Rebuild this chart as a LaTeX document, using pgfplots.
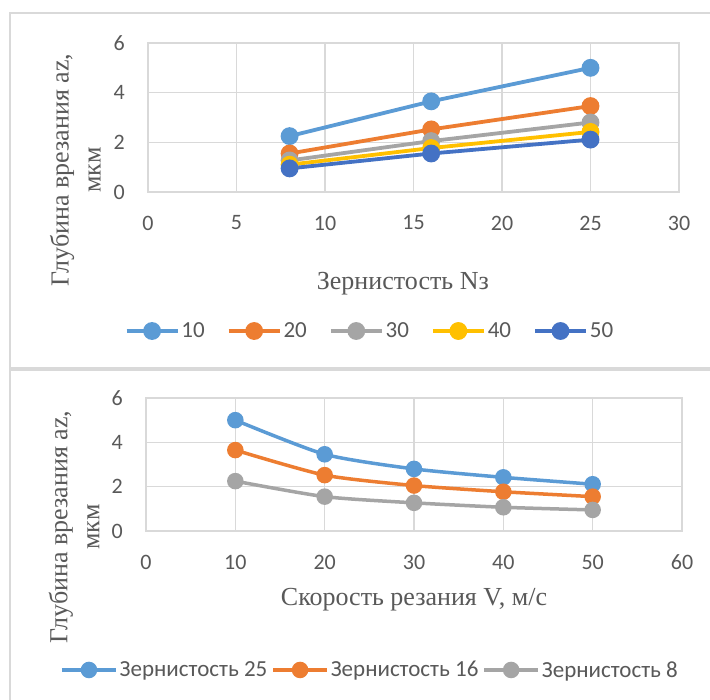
\documentclass[border=0pt]{standalone}
\usepackage{pgfplots}
\pgfplotsset{compat=1.18}
\usepackage{fontspec}
\setmainfont{Liberation Serif}
\newfontfamily\carlito{Carlito}
\definecolor{c1}{HTML}{5B9BD5}
\definecolor{c2}{HTML}{ED7D31}
\definecolor{c3}{HTML}{A5A5A5}
\definecolor{c4}{HTML}{FFC000}
\definecolor{c5}{HTML}{4472C4}
\definecolor{gridc}{HTML}{D9D9D9}
\definecolor{txt}{HTML}{595959}
\newcommand{\tickfont}{\carlito\fontsize{22}{26}\selectfont}
\newcommand{\legfont}{\carlito\fontsize{23}{27}\selectfont}
\newcommand{\labfont}{\fontsize{26}{32}\selectfont}
\pgfplotsset{
  excel/.style={
    scale only axis,
    anchor=south west,
    /pgf/number format/assume math mode=true,
    grid=major,
    grid style={draw=gridc, line width=1.3pt},
    axis line style={draw=gridc, line width=1.3pt},
    tick style={draw=none},
    ticklabel style={font=\tickfont, text=txt},
    xticklabel style={anchor=center, yshift=-31pt},
    yticklabel style={anchor=east, inner sep=0pt, xshift=-23pt},
    label style={font=\labfont, text=txt},
    ymin=0, ymax=6, ytick={0,2,4,6},
    legend style={draw=none, fill=none, font=\legfont, text=txt, anchor=center, legend columns=-1,
      nodes={inner sep=2pt}},
  },
  s/.style={color=#1, mark=*, mark options={fill=#1, draw=#1, solid}},
}
\begin{document}
\begin{tikzpicture}
\useasboundingbox (0pt,0pt) rectangle (710pt,700pt);
\fill[white] (0pt,0pt) rectangle (710pt,700pt);
\draw[gridc, line width=1.5pt] (10pt,332pt) rectangle (730pt,687pt);
\draw[gridc, line width=1.5pt] (10pt,-20pt) rectangle (730pt,330pt);
\begin{axis}[excel,
  at={(148pt,508pt)}, width=531pt, height=149pt,
  xmin=0, xmax=30, xtick={0,5,10,15,20,25,30},
  xlabel={Зернистость Nз},
  xlabel style={at={(axis description cs:0.48,-0.615)}, anchor=center},
  ylabel={Глубина врезания az,\\мкм},
  ylabel style={align=center, at={(axis description cs:-0.137,0.148)}, anchor=center},
  legend image code/.code={\draw[mark repeat=2,mark phase=2,#1] plot coordinates {(0pt,0pt) (25.5pt,0pt) (51pt,0pt)};},
  legend style={at={(axis description cs:0.418,-0.933)}, /tikz/every even column/.append style={column sep=20pt}},
  every axis plot/.append style={line width=3.8pt, mark size=7pt},
]
\addplot[s=c1] coordinates {(8,2.25) (16,3.65) (25,5.0)};
\addlegendentry{10}
\addplot[s=c2] coordinates {(8,1.55) (16,2.52) (25,3.46)};
\addlegendentry{20}
\addplot[s=c3] coordinates {(8,1.27) (16,2.05) (25,2.8)};
\addlegendentry{30}
\addplot[s=c4] coordinates {(8,1.1) (16,1.77) (25,2.42)};
\addlegendentry{40}
\addplot[s=c5] coordinates {(8,0.95) (16,1.55) (25,2.11)};
\addlegendentry{50}
\end{axis}
\begin{axis}[excel,
  at={(146pt,169pt)}, width=536pt, height=133pt,
  xmin=0, xmax=60, xtick={0,10,20,30,40,50,60},
  xlabel={Скорость резания V, м/с},
  xlabel style={at={(axis description cs:0.5,-0.52)}, anchor=center},
  ylabel={Глубина врезания az,\\мкм},
  ylabel style={align=center, at={(axis description cs:-0.134,0.03)}, anchor=center},
  legend image code/.code={\draw[mark repeat=2,mark phase=2,#1] plot coordinates {(0pt,0pt) (27pt,0pt) (54pt,0pt)};},
  legend style={at={(axis description cs:0.418,-1.045)}, /tikz/every even column/.append style={column sep=2pt}},
  every axis plot/.append style={line width=3.5pt, mark size=6.5pt, smooth, tension=0.4},
]
\addplot[s=c1] coordinates {(10,5.0) (20,3.46) (30,2.8) (40,2.42) (50,2.11)};
\addlegendentry{Зернистость 25}
\addplot[s=c2] coordinates {(10,3.65) (20,2.52) (30,2.05) (40,1.77) (50,1.55)};
\addlegendentry{Зернистость 16}
\addplot[s=c3] coordinates {(10,2.25) (20,1.55) (30,1.27) (40,1.07) (50,0.95)};
\addlegendentry{Зернистость 8}
\end{axis}
\end{tikzpicture}
\end{document}
